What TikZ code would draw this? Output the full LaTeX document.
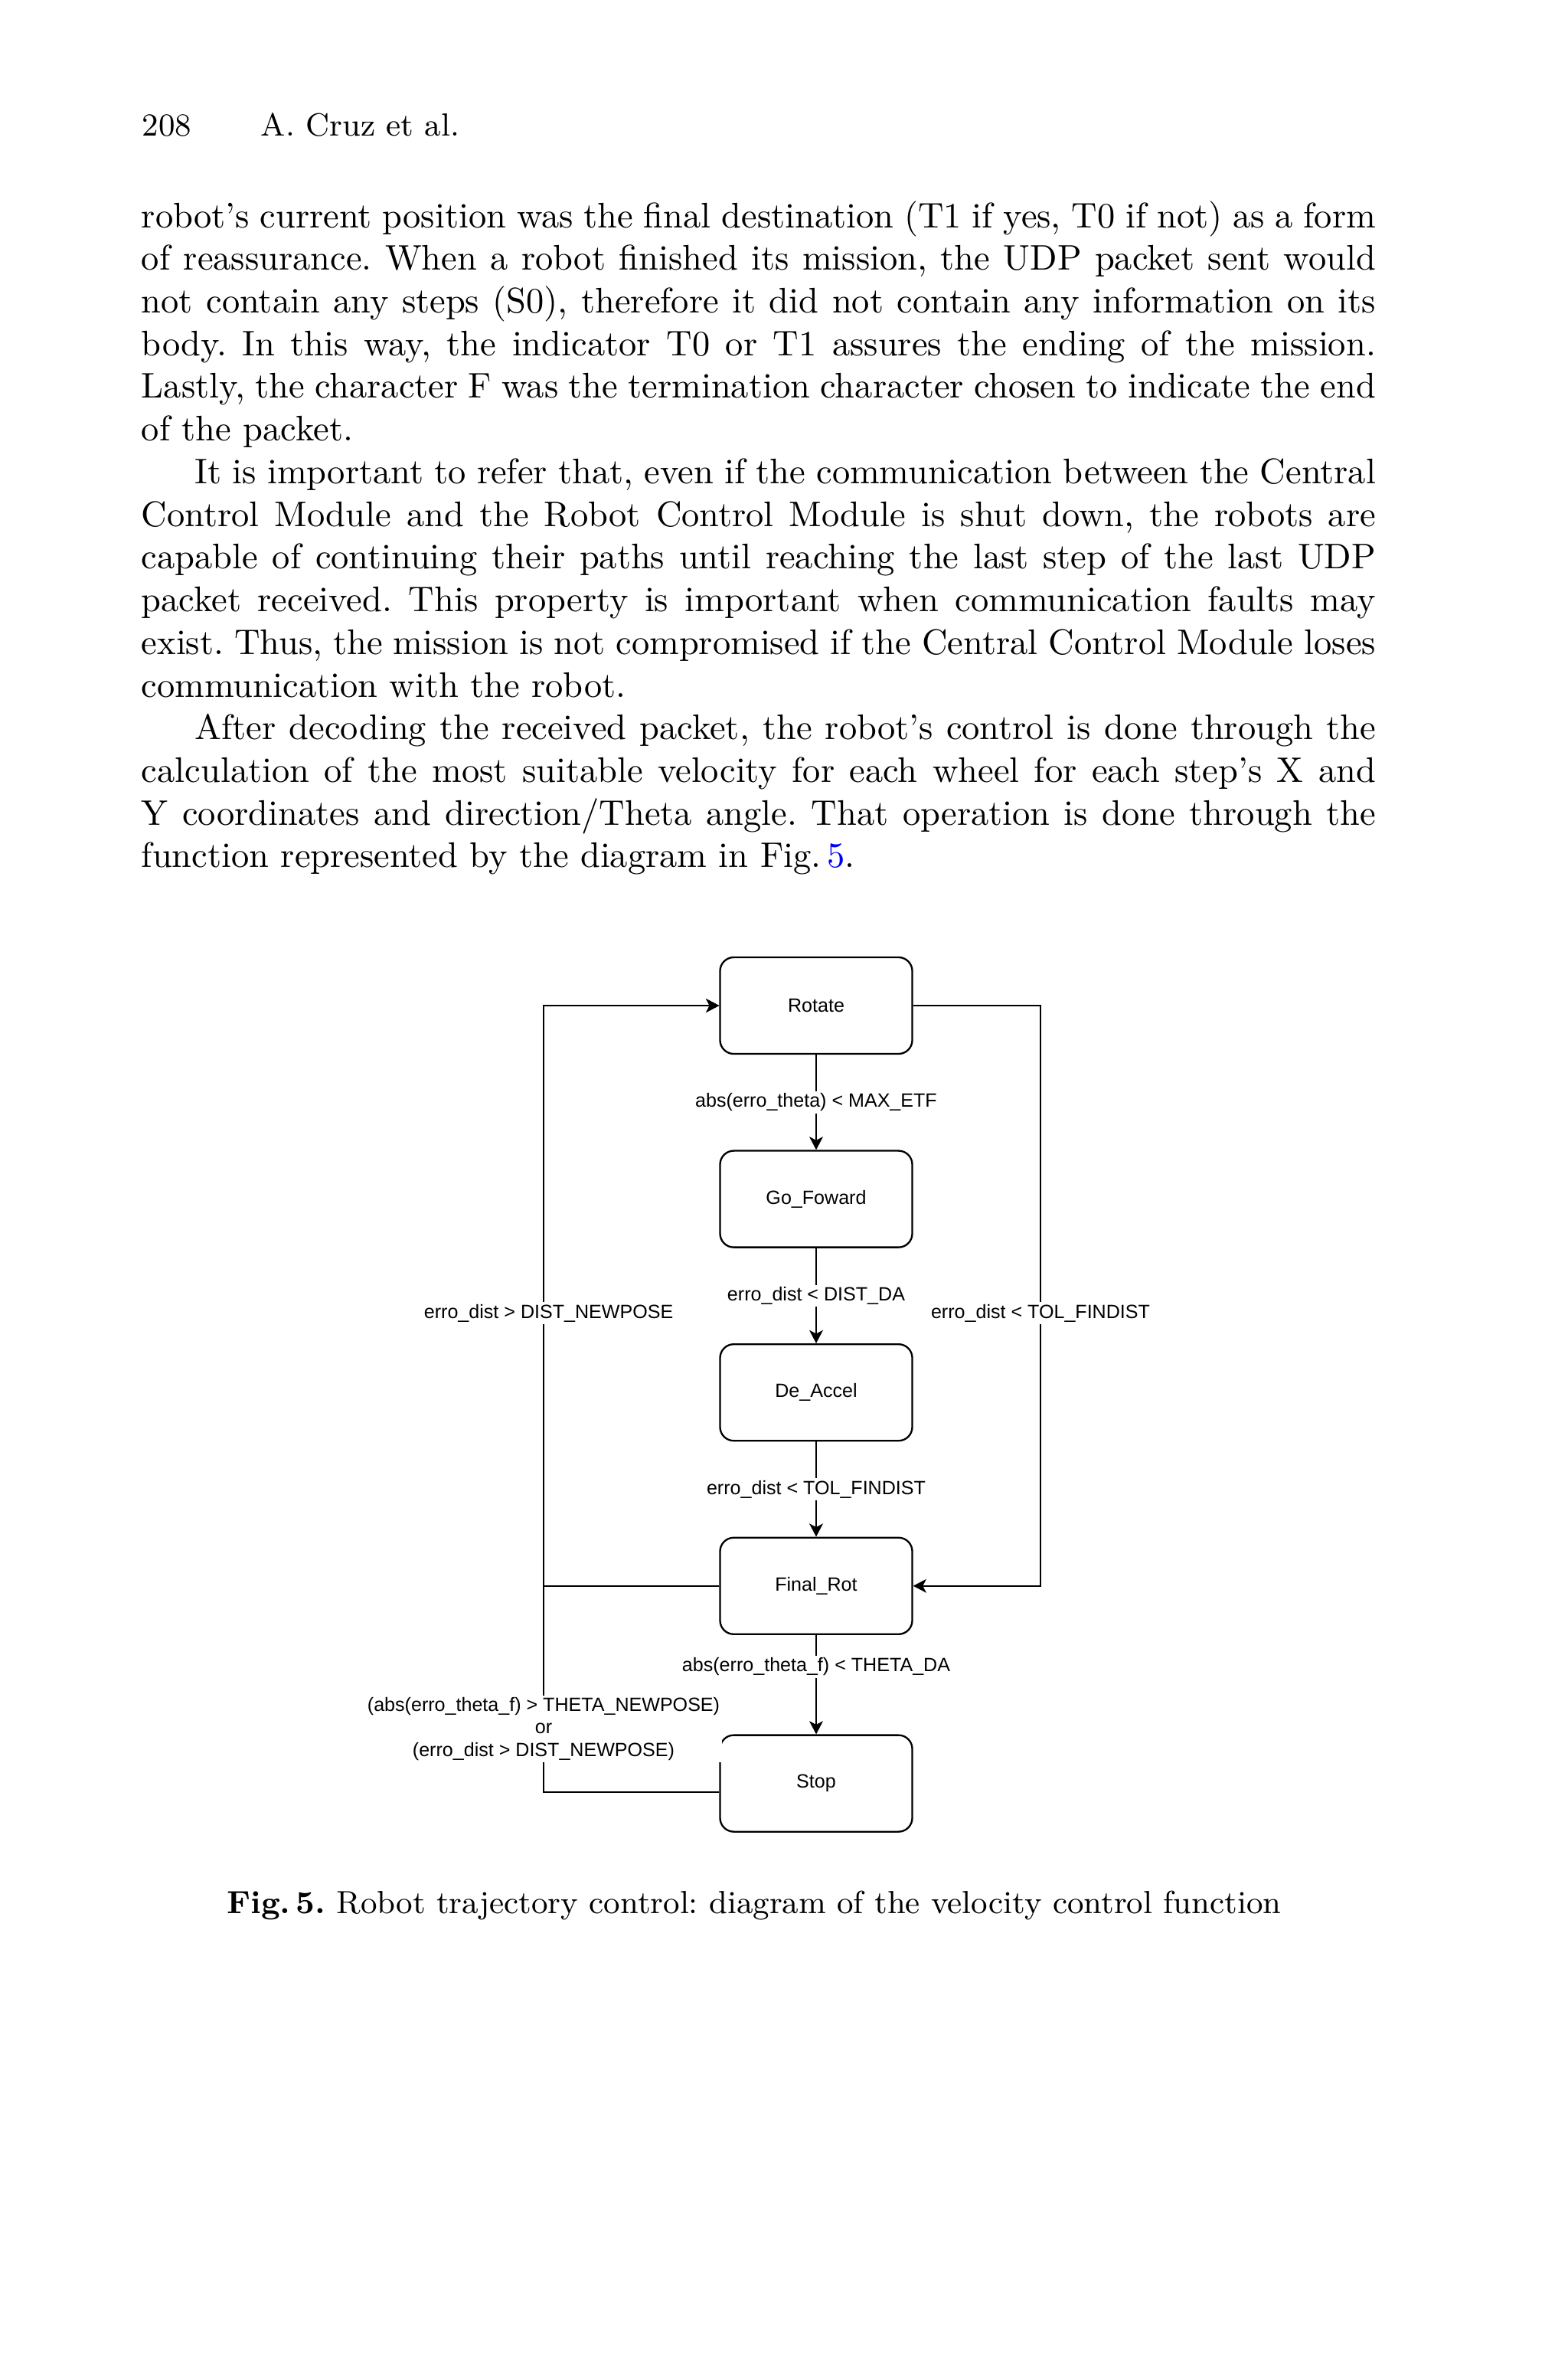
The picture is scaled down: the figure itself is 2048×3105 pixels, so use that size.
\documentclass[tikz,border=0pt]{standalone}
\usepackage{fontspec}
\newfontfamily\diagfont{Liberation Sans}
\usepackage{xcolor}
\definecolor{cLine}{HTML}{000000}
\definecolor{cLink}{HTML}{0000FF}
\usepackage{tikz}
\usetikzlibrary{positioning,arrows.meta}
\frenchspacing
\tikzset{
  state-box/.style={draw=cLine,line width=0.5pt,rounded corners=1.36mm,
    minimum width=19mm,minimum height=9.54mm,align=center,
    font=\diagfont\fontsize{5.4}{6.3}\selectfont},
  arrow/.style={-{Stealth[length=1.3mm,width=1.35mm,inset=0.35mm]},
    line width=0.4pt,draw=cLine},
  edge-label/.style={fill=white,inner sep=0.6pt,align=center,
    font=\diagfont\fontsize{5.4}{6.33}\selectfont},
  head-text/.style={anchor=base west,inner sep=0pt,
    font=\fontsize{9}{11}\selectfont},
  body-text/.style={anchor=base west,inner sep=0pt,text width=122mm,
    align=justify,font=\fontsize{10}{12}\selectfont},
}

\begin{document}
\begin{tikzpicture}[x=0.07568mm,y=-0.07568mm,node distance=9.4mm]
  \useasboundingbox (0,0) rectangle (2048,3105);
  % running head
  \node[head-text] (page) at (185,177) {208};
  \node[head-text] (head) at (340,177) {A. Cruz et al.};
  % body text
  \node[body-text] (body) at (184,297) {\setlength{\parindent}{15pt}\noindent
    robot's current position was the final destination (T1 if yes, T0 if not) as a form
    of reassurance. When a robot finished its mission, the UDP packet sent would
    not contain any steps (S0), therefore it did not contain any information on its
    body. In this way, the indicator T0 or T1 assures the ending of the mission.
    Lastly, the character F was the termination character chosen to indicate the end
    of the packet.\par
    It is important to refer that, even if the communication between the Central
    Control Module and the Robot Control Module is shut down, the robots are
    capable of continuing their paths until reaching the last step of the last UDP
    packet received. This property is important when communication faults may
    exist. Thus, the mission is not compromised if the Central Control Module loses
    communication with the robot.\par
    After decoding the received packet, the robot's control is done through the
    calculation of the most suitable velocity for each wheel for each step's X and
    Y coordinates and direction/Theta angle. That operation is done through the
    function represented by the diagram in Fig.\,{\color{cLink}5}.};
  % states
  \node[state-box] (rotate) at (1066,1313) {Rotate};
  \node[state-box,below=of rotate] (gofwd) {Go\_Foward};
  \node[state-box,below=of gofwd] (decel) {De\_Accel};
  \node[state-box,below=of decel] (final) {Final\_Rot};
  \node[state-box,below=9.8mm of final] (stop) {Stop};
  \coordinate (lc) at (710,0);
  \coordinate (rc) at (1359,0);
  \coordinate (stop-out) at ([yshift=-0.83mm]stop.west);
  % transitions
  \draw[arrow] (rotate) -- node[edge-label]{abs(erro\_theta) < MAX\_ETF} (gofwd);
  \draw[arrow] (gofwd) -- node[edge-label]{erro\_dist < DIST\_DA} (decel);
  \draw[arrow] (decel) -- node[edge-label]{erro\_dist < TOL\_FINDIST} (final);
  \draw[arrow] (final) -- node[edge-label,pos=0.32]{abs(erro\_theta\_f) < THETA\_DA} (stop);
  \draw[arrow] (rotate.east) -- (rotate.east -| rc)
    -- node[edge-label,pos=0.53]{erro\_dist < TOL\_FINDIST} (final.east -| rc)
    -- (final.east);
  \draw[arrow] (stop-out) -- (stop-out -| lc)
    -- node[edge-label,pos=0.08]{(abs(erro\_theta\_f) > THETA\_NEWPOSE)\\or\\(erro\_dist > DIST\_NEWPOSE)} (rotate.west -| lc)
    -- (rotate.west);
  \draw[arrow] (final.west) -- (final.west -| lc)
    -- node[edge-label,pos=0.47,xshift=0.5mm]{erro\_dist > DIST\_NEWPOSE} (rotate.west -| lc)
    -- (rotate.west);
  % caption
  \node[anchor=base,inner sep=0pt,font=\fontsize{9}{11}\selectfont] (caption) at (985,2498)
    {\textbf{Fig.\,5.} Robot trajectory control: diagram of the velocity control function};
\end{tikzpicture}
\end{document}
